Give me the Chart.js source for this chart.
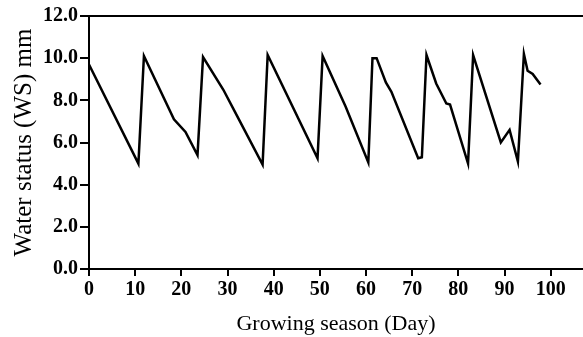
<!DOCTYPE html>
<html>
<head>
<meta charset="utf-8">
<script src="https://cdn.jsdelivr.net/npm/chart.js@4/dist/chart.umd.min.js"></script>
<style>
  html, body { margin: 0; padding: 0; background: #fff; }
  #wrap { width: 583px; height: 337px; position: relative; }
</style>
</head>
<body>
<div id="wrap"><canvas id="c" width="583" height="337"></canvas></div>
<script>
// Data
const days = [0, 10.7, 11.9, 18.4, 20.9, 23.5, 24.7, 29.1, 31.5, 37.6, 38.7, 49.5, 50.6, 55.6, 60.5, 61.4, 62.3, 64.3, 65.5, 71.3, 72.1, 73.1, 75.2, 77.4, 78.2, 82.1, 83.2, 89.2, 91.1, 92.9, 94.2, 95.0, 96.1, 97.8];
const waterStatus = [9.7, 5.0, 10.1, 7.1, 6.5, 5.4, 10.05, 8.5, 7.5, 4.95, 10.15, 5.25, 10.1, 7.7, 5.05, 10.0, 10.0, 8.85, 8.4, 5.25, 5.3, 10.15, 8.8, 7.85, 7.8, 5.0, 10.15, 6.0, 6.6, 5.1, 10.2, 9.4, 9.25, 8.75];
const xTickStep = 10;
const yTickStep = 2;
const xTitle = 'Growing season (Day)';
const yTitle = 'Water status (WS) mm';

const points = days.map((d, i) => ({ x: d, y: waterStatus[i] }));

const tickFont = { family: 'Liberation Serif', size: 20, weight: 'bold' };
const titleFont = { family: 'Liberation Serif', size: 22, weight: 'normal' };

new Chart(document.getElementById('c'), {
  type: 'line',
  data: {
    datasets: [{
      data: points,
      borderColor: '#000',
      borderWidth: 2.5,
      pointRadius: 0,
      tension: 0,
      fill: false
    }]
  },
  options: {
    responsive: false,
    animation: false,
    devicePixelRatio: 1,
    layout: { padding: { top: 16, right: 0, left: 0, bottom: 0 } },
    plugins: { legend: { display: false }, tooltip: { enabled: false } },
    scales: {
      x: {
        type: 'linear',
        position: 'bottom',
        min: 0,
        max: 107,
        afterFit: s => { s.height = 68; },
        border: { color: '#000', width: 2 },
        grid: { drawOnChartArea: false, color: '#000', lineWidth: 2, tickLength: 7 },
        ticks: {
          stepSize: xTickStep,
          includeBounds: false,
          color: '#000',
          font: tickFont,
          padding: 2,
          maxRotation: 0,
          callback: v => String(v)
        },
        title: { display: true, text: xTitle, color: '#000', font: titleFont, padding: { top: 0, bottom: 0 } }
      },
      x2: {
        type: 'linear',
        position: 'top',
        min: 0,
        max: 107,
        border: { display: true, color: '#000', width: 2 },
        grid: { display: false, drawTicks: false },
        ticks: { display: false }
      },
      y: {
        min: 0,
        max: 12,
        afterFit: s => { s.width = 89; },
        border: { color: '#000', width: 2 },
        grid: { drawOnChartArea: false, color: '#000', lineWidth: 2, tickLength: 9 },
        ticks: {
          stepSize: yTickStep,
          color: '#000',
          font: tickFont,
          padding: 2,
          callback: v => v.toFixed(1)
        },
        title: { display: true, text: yTitle, color: '#000', font: { family: 'Liberation Serif', size: 25, weight: 'normal' }, padding: { top: 9, bottom: 0 } }
      }
    }
  },
  plugins: [{
    id: 'bg',
    beforeDraw: c => { const ctx = c.ctx; ctx.save(); ctx.fillStyle = '#fff'; ctx.fillRect(0, 0, c.width, c.height); ctx.restore(); }
  }]
});
</script>
</body>
</html>
